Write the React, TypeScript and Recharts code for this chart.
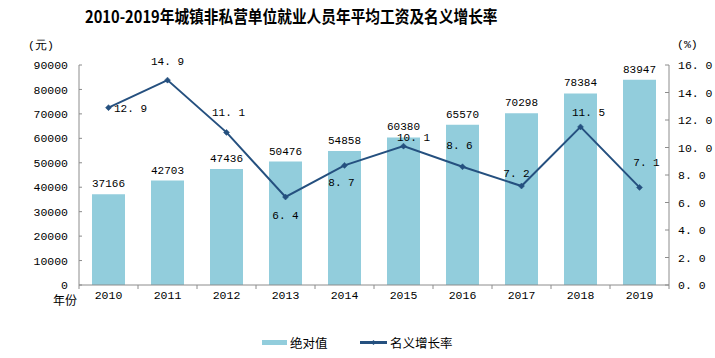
import React from 'react';
import { ComposedChart, Bar, Line, XAxis, YAxis, LabelList } from 'recharts';

const years = ['2010', '2011', '2012', '2013', '2014', '2015', '2016', '2017', '2018', '2019'];
const wages = [37166, 42703, 47436, 50476, 54858, 60380, 65570, 70298, 78384, 83947];
const growth = [12.9, 14.9, 11.1, 6.4, 8.7, 10.1, 8.6, 7.2, 11.5, 7.1];
const leftTicks = [0, 10000, 20000, 30000, 40000, 50000, 60000, 70000, 80000, 90000];
const rightTicks = [0, 2, 4, 6, 8, 10, 12, 14, 16];

// label placement offsets for the growth labels (dx, dy relative to point)
const growthLabelOffsets: [number, number][] = [
  [22, 1], [0, -18], [2, -19], [0, 19], [-3, 18], [10, -8], [-3, -21], [-5, -12], [8, -14], [7, -24],
];

const data = years.map((y, i) => ({ year: y, wage: wages[i], rate: growth[i] }));

const BAR = '#92CDDC';
const LINE = '#25507F';
const AXIS = '#8C8C8C';
const MONO = '"Liberation Mono", "DejaVu Sans Mono", monospace';

const Diamond = (props: any) => {
  const { cx, cy } = props;
  if (cx == null || cy == null) return null;
  const s = 3;
  return <path d={`M${cx},${cy - s}L${cx + s},${cy}L${cx},${cy + s}L${cx - s},${cy}Z`} fill={LINE} stroke={LINE} strokeWidth={0.5} />;
};

const XTick = (props: any) => {
  const { x, y, payload, index } = props;
  const half = payload && payload.offset ? payload.offset : 29.5;
  return (
    <g>
      <line x1={x - half} x2={x - half} y1={y - 8} y2={y - 4} stroke={AXIS} />
      {index === years.length - 1 && <line x1={x + half} x2={x + half} y1={y - 8} y2={y - 4} stroke={AXIS} />}
      <text x={x} y={y + 6} textAnchor="middle" fontFamily={MONO} fontSize={11.5} fill="#000">
        {payload.value}
      </text>
    </g>
  );
};

const GrowthLabel = (props: any) => {
  const { x, y, value, index } = props;
  const [dx, dy] = growthLabelOffsets[index] || [0, -12];
  return (
    <text x={x + dx} y={y + dy} textAnchor="middle" dominantBaseline="central" fontFamily={MONO} fontSize={11} fill="#000">
      {Number(value).toFixed(1).replace('.', '. ')}
    </text>
  );
};

export default function App() {
  return (
    <div style={{ position: 'absolute', left: 0, top: 0, width: 715, height: 358, background: '#fff' }}>
      <div
        style={{
          position: 'absolute', left: 85, top: 6, whiteSpace: 'nowrap', fontFamily: '"Noto Sans CJK SC"',
          fontWeight: 700, fontSize: 16.5, lineHeight: '20px', transform: 'scaleX(0.89)', transformOrigin: 'left top', color: '#000',
        }}
      >
        2010-2019年城镇非私营单位就业人员年平均工资及名义增长率
      </div>
      <div style={{ position: 'absolute', left: 28, top: 38, fontFamily: MONO, fontSize: 11.5, lineHeight: '16px' }}>(元)</div>
      <div style={{ position: 'absolute', left: 677, top: 37, fontFamily: MONO, fontSize: 11.5, lineHeight: '16px' }}>(%)</div>
      <div style={{ position: 'absolute', left: 53, top: 291, fontFamily: '"Noto Sans CJK SC"', fontSize: 12, lineHeight: '18px' }}>年份</div>
      <ComposedChart width={715} height={358} data={data} margin={{ top: 65, right: 0, left: 0, bottom: 0 }}>
        <XAxis dataKey="year" height={73} tickLine={false} axisLine={{ stroke: AXIS }} tick={<XTick />} interval={0} />
        <YAxis
          yAxisId="left" width={79} domain={[0, 90000]} ticks={leftTicks} interval={0}
          axisLine={{ stroke: AXIS }} tickLine={{ stroke: AXIS }} tickSize={-3} tickMargin={14}
          tick={{ fontFamily: MONO, fontSize: 11.5, fill: '#000' }}
        />
        <YAxis
          yAxisId="right" orientation="right" width={46} domain={[0, 16]} ticks={rightTicks} interval={0}
          axisLine={{ stroke: AXIS }} tickLine={{ stroke: AXIS }} tickSize={-4} tickMargin={13}
          tick={{ fontFamily: MONO, fontSize: 11.5, fill: '#000' }}
          tickFormatter={(v: number) => v.toFixed(1).replace('.', '. ')}
        />
        <Bar yAxisId="left" dataKey="wage" fill={BAR} barSize={33} isAnimationActive={false}>
          <LabelList dataKey="wage" position="top" offset={7} style={{ fontFamily: MONO, fontSize: 11, fill: '#000' }} />
        </Bar>
        <Line
          yAxisId="right" dataKey="rate" stroke={LINE} strokeWidth={2} dot={<Diamond />} activeDot={false}
          isAnimationActive={false}
        >
          <LabelList dataKey="rate" content={<GrowthLabel />} />
        </Line>
      </ComposedChart>
      <div style={{ position: 'absolute', left: 0, top: 333, width: 715, height: 20 }}>
        <svg width={715} height={20} style={{ position: 'absolute', left: 0, top: 0 }}>
          <rect x={262} y={7} width={25} height={5} fill={BAR} />
          <line x1={360} x2={387} y1={9.5} y2={9.5} stroke={LINE} strokeWidth={3} />
          <path d="M373.5,7L376,9.5L373.5,12L371,9.5Z" fill={LINE} />
        </svg>
        <div style={{ position: 'absolute', left: 290, top: 0, fontFamily: '"Noto Sans CJK SC"', fontSize: 12.5, lineHeight: '19px' }}>绝对值</div>
        <div style={{ position: 'absolute', left: 390, top: 0, fontFamily: '"Noto Sans CJK SC"', fontSize: 12.5, lineHeight: '19px' }}>名义增长率</div>
      </div>
    </div>
  );
}
